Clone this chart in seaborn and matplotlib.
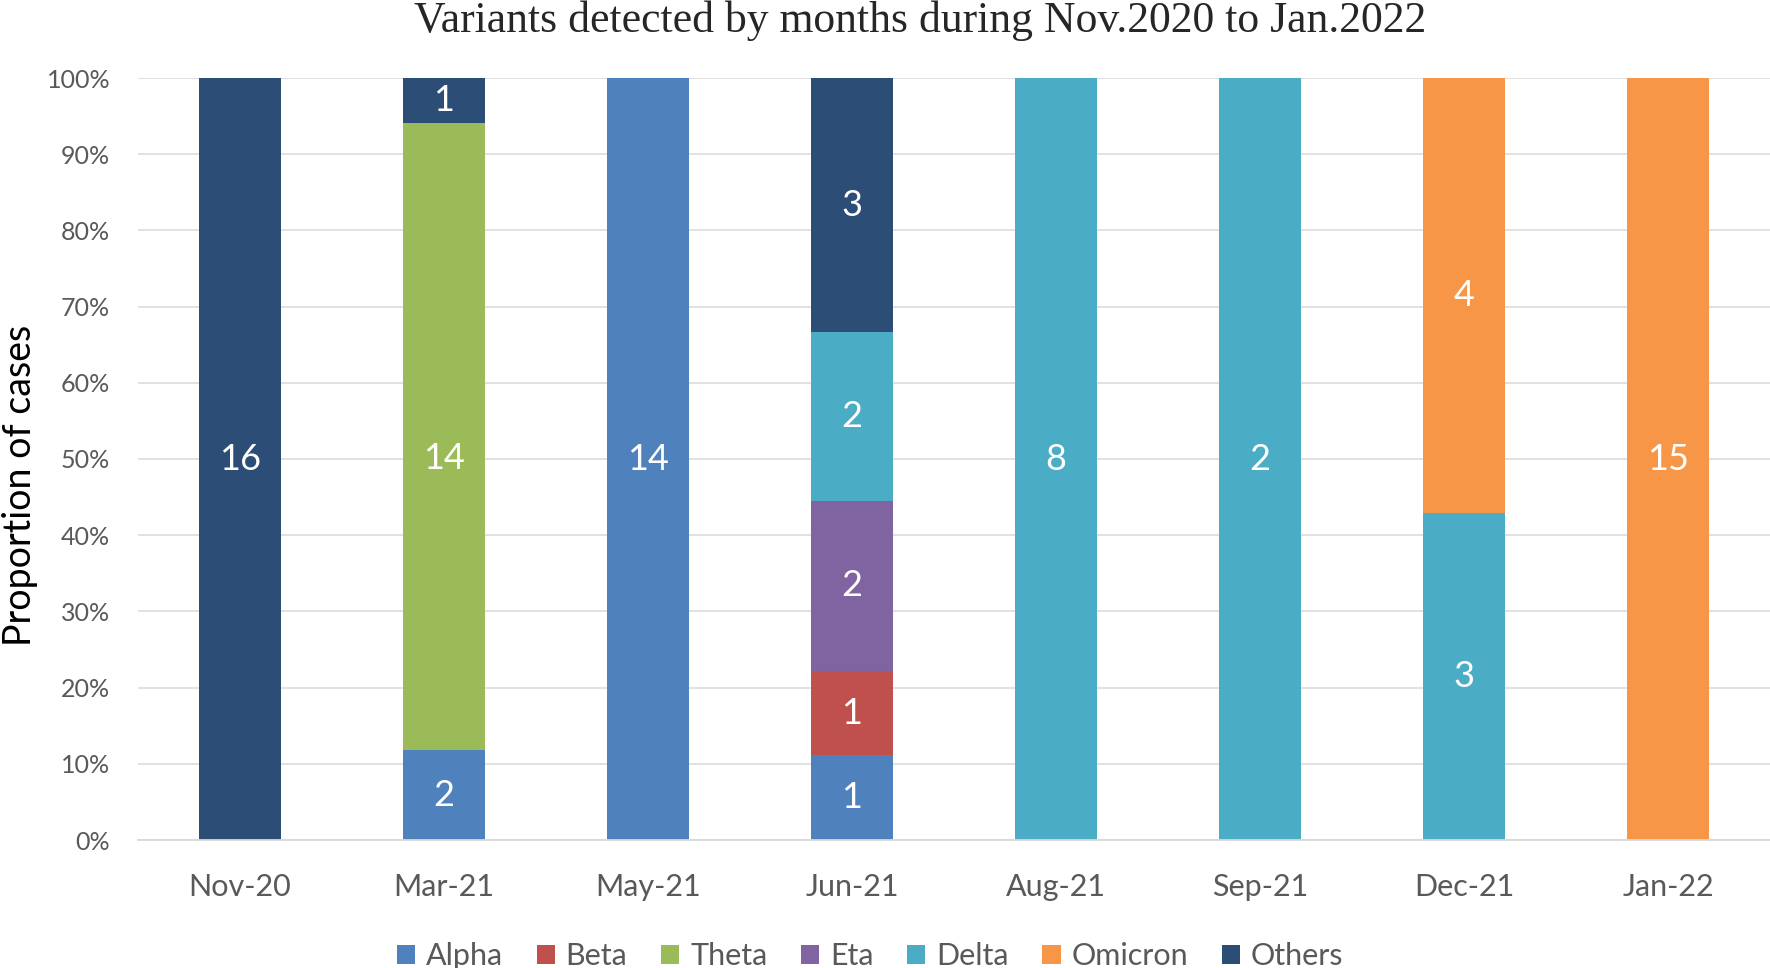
import numpy as np
import pandas as pd
import seaborn as sns
import matplotlib.pyplot as plt
from matplotlib.patches import Patch
from matplotlib.ticker import PercentFormatter, FixedLocator

months = ["Nov-20", "Mar-21", "May-21", "Jun-21", "Aug-21", "Sep-21", "Dec-21", "Jan-22"]
variants = ["Alpha", "Beta", "Theta", "Eta", "Delta", "Omicron", "Others"]

alpha = [0, 2, 14, 1, 0, 0, 0, 0]
beta = [0, 0, 0, 1, 0, 0, 0, 0]
theta = [0, 14, 0, 0, 0, 0, 0, 0]
eta = [0, 0, 0, 2, 0, 0, 0, 0]
delta = [0, 0, 0, 2, 8, 2, 3, 0]
omicron = [0, 0, 0, 0, 0, 0, 4, 15]
others = [16, 1, 0, 3, 0, 0, 0, 0]

colors = ["#4F81BD", "#C0504D", "#9BBB59", "#8064A2", "#4BACC6", "#F79646", "#2C4D75"]

counts = pd.DataFrame(
    [alpha, beta, theta, eta, delta, omicron, others], index=variants, columns=months
)
props = counts / counts.sum(axis=0)

sns.set_style("white")
plt.rcParams["font.family"] = ["Lato", "DejaVu Sans"]

fig = plt.figure(figsize=(17.7, 9.68), dpi=100)
ax = fig.add_axes([138 / 1770, 1 - 840 / 968, 1 - 138 / 1770, (840 - 78) / 968])

ax.yaxis.grid(True, color="#D9D9D9", linewidth=1.1)
ax.set_axisbelow(True)

bottom = np.zeros(len(months))
for v, c in zip(variants, colors):
    sns.barplot(x=months, y=props.loc[v].values, bottom=bottom, color=c,
                width=0.4, errorbar=None, ax=ax, linewidth=0, saturation=1)
    cont = ax.containers[-1]
    labels = [str(n) if n > 0 else "" for n in counts.loc[v].values]
    txts = ax.bar_label(cont, labels=labels, label_type="center", color="white", fontsize=26)
    if v == "Theta":
        # the Mar-21 label sits a bit below mid-segment in the original
        txts[months.index("Mar-21")].xyann = (0, -16)
    bottom = bottom + props.loc[v].values

ax.set_ylim(0, 1)
ax.set_xlim(-0.5, len(months) - 0.5)
ax.yaxis.set_major_locator(FixedLocator(np.arange(0, 1.01, 0.1)))
ax.yaxis.set_major_formatter(PercentFormatter(1.0, decimals=0))
ax.tick_params(axis="y", length=0, pad=20, labelsize=18, labelcolor="#595959")
ax.tick_params(axis="x", which="major", length=0, pad=24, labelsize=22, labelcolor="#595959")
ax.set_xticks(np.arange(-0.5, len(months), 1), minor=True)
ax.tick_params(axis="x", which="minor", length=8, width=1.1, color="#D9D9D9")

for s in ["top", "right", "left"]:
    ax.spines[s].set_visible(False)
ax.spines["bottom"].set_color("#D9D9D9")
ax.spines["bottom"].set_linewidth(1.3)

ax.set_xlabel("")
ax.set_ylabel("Proportion of cases", fontsize=27, color="black")
ax.yaxis.set_label_coords(-0.061, 0.465)

fig.text(920 / 1770, 1 - 32 / 968, "Variants detected by months during Nov.2020 to Jan.2022",
         ha="center", va="baseline", fontsize=31.5, family="Liberation Serif")

handles = [Patch(facecolor=c, edgecolor="none") for c in colors]
fig.legend(handles, variants, loc="center", bbox_to_anchor=(870 / 1770, 1 - 956 / 968),
           ncol=7, frameon=False, fontsize=22, labelcolor="#595959",
           handlelength=0.6, handleheight=0.6, handletextpad=0.35, columnspacing=1.1,
           borderpad=0, borderaxespad=0)

fig.savefig("out.png", dpi=100)
